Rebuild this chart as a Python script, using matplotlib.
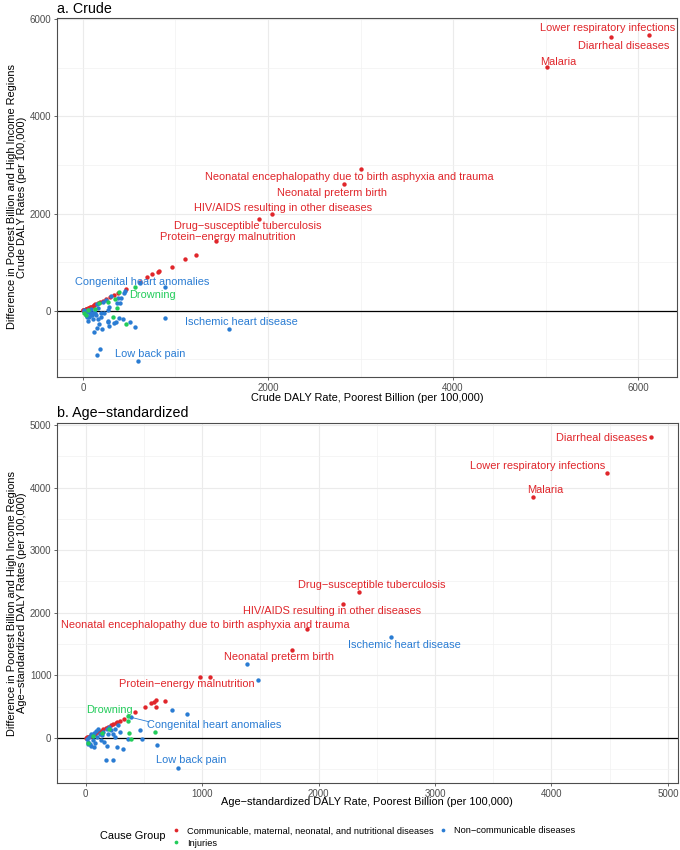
import matplotlib
matplotlib.use("Agg")
import matplotlib.pyplot as plt
from matplotlib.lines import Line2D
from matplotlib.ticker import MultipleLocator

plt.rcParams['font.family'] = ['Liberation Sans', 'DejaVu Sans']

RED = "#E0262B"
BLUE = "#2A7CD3"
GREEN = "#22CC5A"

# ---------------- Panel a: crude ----------------
crude_comm_x = [6119, 5708, 5016, 3005, 2822, 2043, 1903, 1438, 1222, 1103, 962, 822, 808, 746, 692,
                616, 465, 378, 335, 290, 250, 215, 185, 160, 135, 120, 110, 90, 72, 65, 56, 42, 38,
                30, 25, 20, 15, 12, 8, 6, 3]
crude_comm_y = [5676, 5635, 5020, 2910, 2602, 1988, 1885, 1434, 1148, 1066, 902, 820, 790, 758, 697,
                594, 452, 370, 330, 280, 240, 205, 175, 150, 125, 105, 100, 82, 64, 55, 50, 36, 30,
                25, 19, 16, 10, 9, 5, 4, 1]
crude_ncd_x = [890, 1578, 595, 616, 443, 411, 400, 886, 389, 432, 335, 270, 508, 562, 205, 151, 119,
               184, 151, 32, 65, 108, 54, 162, 195, 227, 270, 281, 119, 86, 162, 378, 368, 454, 173,
               270, 281, 357, 22, 43, 86, 140, 11, 65, 108, 195, 151, 216, 249, 303, 40, 75, 20, 100,
               130, 55, 12, 30]
crude_ncd_y = [486, -389, -1045, 574, 369, 267, 164, -164, -164, -184, -266, -225, -246, -330, -389,
               -369, -451, -799, -922, -82, -123, -184, -225, -184, -143, -41, 20, 82, -20, 41, 61,
               266, 164, 410, -287, -246, -328, -246, -20, -143, -82, -102, 20, 0, -41, -61, 143, 184,
               225, 307, -40, -60, -60, -100, -60, 10, -5, -30]
crude_inj_x = [562, 349, 367, 324, 465, 270, 173, 32, 130, 11, 60, 392]
crude_inj_y = [492, 246, 61, -143, -268, 184, 164, -102, 41, -41, 20, 380]

crude_labels = ["Lower respiratory infections", "Diarrheal diseases", "Malaria",
                "Neonatal encephalopathy due to birth asphyxia and trauma", "Neonatal preterm birth",
                "HIV/AIDS resulting in other diseases", "Drug\u2212susceptible tuberculosis",
                "Protein\u2212energy malnutrition", "Congenital heart anomalies", "Drowning",
                "Ischemic heart disease", "Low back pain"]
crude_label_group = ["comm"] * 8 + ["ncd", "inj", "ncd", "ncd"]
crude_label_x = [5665, 5849, 5141, 2881, 2692, 2168, 1784, 1562, 643, 751, 1708, 724]
crude_label_y = [5820, 5451, 5123, 2746, 2418, 2111, 1742, 1516, 594, 328, -246, -902]

# ---------------- Panel b: age-standardized ----------------
age_comm_x = [4854, 4476, 3841, 2348, 2210, 1901, 1773, 983, 1069, 682, 605, 588, 562, 605, 511, 425,
              330, 296, 270, 262, 236, 220, 193, 175, 150, 130, 116, 100, 82, 60, 45, 39, 25, 12, 5]
age_comm_y = [4808, 4233, 3850, 2332, 2141, 1741, 1406, 974, 974, 591, 607, 575, 559, 495, 495, 415,
              300, 272, 255, 240, 224, 200, 176, 160, 144, 115, 96, 88, 64, 50, 38, 32, 20, 9, 3]
age_ncd_x = [2623, 392, 794, 1386, 1481, 743, 871, 468, 485, 365, 253, 614, 322, 270, 185, 236, 176,
             20, 40, 60, 80, 100, 120, 150, 180, 200, 220, 250, 90, 110, 140, 30, 50, 70, 10, 160,
             190, 130, 280, 300, 240, 45, 75, 25]
age_ncd_y = [1613, 330, -479, 1182, 927, 447, 383, 128, -16, -16, 16, -112, -176, -144, -128, -351,
             -351, -60, -100, -40, -80, 20, 60, 100, 140, 180, 120, 150, 110, 150, 40, 20, 60, 80,
             -10, -60, 60, -30, 200, 100, 60, -130, -150, -100]
age_inj_x = [365, 367, 597, 388, 373, 142, 21, 200, 60]
age_inj_y = [350, 272, 101, -21, 85, 75, -85, 150, 30]

age_labels = ["Diarrheal diseases", "Lower respiratory infections", "Malaria",
              "Drug\u2212susceptible tuberculosis", "HIV/AIDS resulting in other diseases",
              "Neonatal encephalopathy due to birth asphyxia and trauma", "Ischemic heart disease",
              "Neonatal preterm birth", "Protein\u2212energy malnutrition", "Drowning",
              "Congenital heart anomalies", "Low back pain"]
age_label_group = ["comm"] * 6 + ["ncd", "comm", "comm", "inj", "ncd", "ncd"]
age_label_x = [4433, 3884, 3944, 2459, 2112, 1026, 2734, 1665, 871, 202, 1107, 906]
age_label_y = [4792, 4345, 3962, 2444, 2029, 1805, 1486, 1294, 863, 447, 208, -351]

group_names = ["Communicable, maternal, neonatal, and nutritional diseases", "Injuries",
               "Non\u2212communicable diseases"]
colors = {"comm": RED, "inj": GREEN, "ncd": BLUE}

W, H = 680, 850
fig = plt.figure(figsize=(W / 100, H / 100), dpi=100)


def px_box(l, t, r, b):
    return [l / W, 1 - b / H, (r - l) / W, (b - t) / H]


ax_a = fig.add_axes(px_box(57, 18, 677, 377))
ax_b = fig.add_axes(px_box(57, 423, 678, 783))


def style(ax, xmaj, ymaj):
    ax.set_facecolor("white")
    ax.xaxis.set_major_locator(MultipleLocator(xmaj))
    ax.xaxis.set_minor_locator(MultipleLocator(xmaj / 2))
    ax.yaxis.set_major_locator(MultipleLocator(ymaj))
    ax.yaxis.set_minor_locator(MultipleLocator(ymaj / 2))
    ax.grid(True, which="major", color="#EBEBEB", lw=0.8, zorder=0)
    ax.grid(True, which="minor", color="#F2F2F2", lw=0.5, zorder=0)
    ax.set_axisbelow(True)
    for s in ax.spines.values():
        s.set_color("#4D4D4D")
        s.set_linewidth(0.8)
    ax.tick_params(which="major", length=2.5, width=0.6, color="#4D4D4D", labelsize=7,
                   labelcolor="#4D4D4D", pad=1.5)
    ax.tick_params(which="minor", length=0)
    ax.axhline(0, color="black", lw=0.9, zorder=1)


def draw(ax, cx, cy, nx, ny, ix, iy, labels, lgroup, lx, ly):
    ax.scatter(cx, cy, s=10, color=RED, lw=0, zorder=3)
    ax.scatter(nx, ny, s=10, color=BLUE, lw=0, zorder=3)
    ax.scatter(ix, iy, s=10, color=GREEN, lw=0, zorder=3)
    for t, g, x, y in zip(labels, lgroup, lx, ly):
        ax.text(x, y, t, color=colors[g], fontsize=7.9, ha="center", va="center", zorder=4)


style(ax_a, 2000, 2000)
draw(ax_a, crude_comm_x, crude_comm_y, crude_ncd_x, crude_ncd_y, crude_inj_x, crude_inj_y,
     crude_labels, crude_label_group, crude_label_x, crude_label_y)
ax_a.set_xlim(-280, 6420)
ax_a.set_ylim(-1370, 6030)

style(ax_b, 1000, 1000)
draw(ax_b, age_comm_x, age_comm_y, age_ncd_x, age_ncd_y, age_inj_x, age_inj_y,
     age_labels, age_label_group, age_label_x, age_label_y)
# segment from congenital label to its point
ax_b.plot([age_ncd_x[1], age_label_x[10] - 560], [age_ncd_y[1], age_label_y[10] + 50],
          color=BLUE, lw=0.6, zorder=2)
ax_b.set_xlim(-245, 5086)
ax_b.set_ylim(-719, 5032)

# titles
fig.text(57 / W, 1 - 9 / H, "a. Crude", fontsize=10.3, ha="left", va="center")
fig.text(57 / W, 1 - 413 / H, "b. Age\u2212standardized", fontsize=10.3, ha="left", va="center")

# axis titles
fig.text(367 / W, 1 - 398 / H, "Crude DALY Rate, Poorest Billion (per 100,000)",
         fontsize=7.9, ha="center", va="center")
fig.text(17 / W, 1 - 197 / H,
         "Difference in Poorest Billion and High Income Regions\nCrude DALY Rates (per 100,000)",
         fontsize=7.9, ha="center", va="center", rotation=90, linespacing=1.1)
fig.text(367 / W, 1 - 802 / H,
         "Age\u2212standardized DALY Rate, Poorest Billion (per 100,000)",
         fontsize=7.9, ha="center", va="center")
fig.text(17 / W, 1 - 603 / H,
         "Difference in Poorest Billion and High Income Regions\nAge\u2212standardized DALY Rates (per 100,000)",
         fontsize=7.9, ha="center", va="center", rotation=90, linespacing=1.1)

# legend
fig.text(100 / W, 1 - 836 / H, "Cause Group", fontsize=7.9, ha="left", va="center")
handles = [Line2D([], [], marker="o", ls="", color=c, markersize=2.7, markeredgewidth=0)
           for c in (RED, GREEN, BLUE)]
fig.legend(handles, group_names, ncol=2, loc="center left",
           bbox_to_anchor=(172 / W, 1 - 837 / H), frameon=False, fontsize=6.7,
           handlelength=0.9, handletextpad=0.75, columnspacing=0.5, labelspacing=0.35,
           borderpad=0, borderaxespad=0)

fig.savefig("out.png", dpi=100, facecolor="white")
